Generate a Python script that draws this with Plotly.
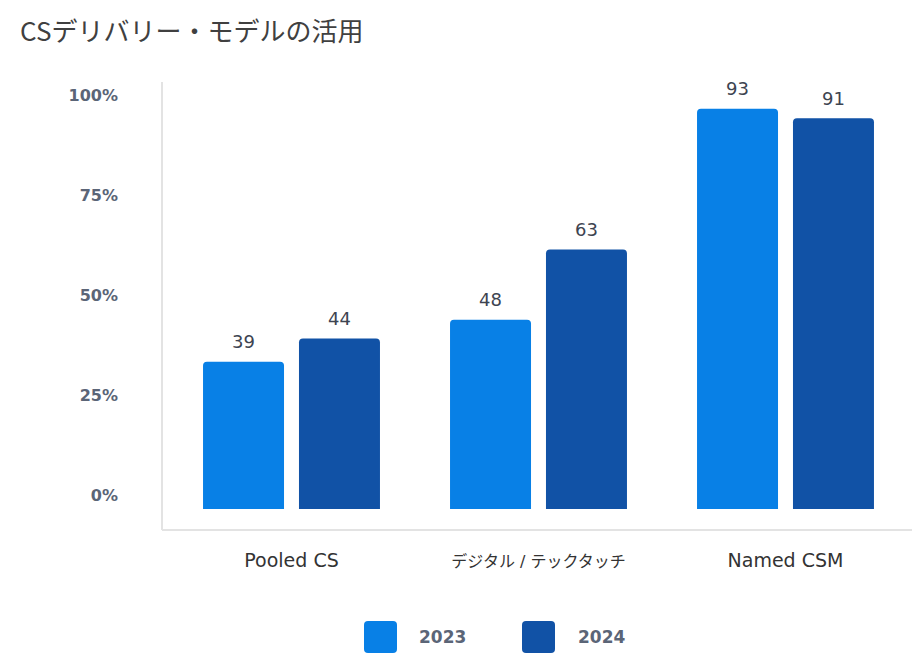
import plotly.graph_objects as go

# ---- data ----
categories = ["Pooled CS", "デジタル / テックタッチ", "Named CSM"]
series_names = ["2023", "2024"]
values_2023 = [39, 48, 93]
values_2024 = [44, 63, 91]
pct_ticks = [0, 25, 50, 75, 100]

colors = ["#0880E6", "#1152A6"]
series_values = [values_2023, values_2024]

OFF = 8  # page body margin
W, H = 920 - OFF, 654 - OFF
L, R, T = 168 - OFF, 11, 82 - OFF
PLOT_BOTTOM = 509 - OFF
B = H - PLOT_BOTTOM
pw, ph = W - L - R, H - T - B

fig = go.Figure()
for name, vals, col in zip(series_names, series_values, colors):
    fig.add_trace(go.Bar(
        x=categories, y=vals, name=name,
        marker=dict(color=col, cornerradius=4, line=dict(width=0)),
        showlegend=False, hoverinfo="x+y+name",
    ))

# dummy trace to carry the percent axis
fig.add_trace(go.Scatter(x=categories, y=[None] * len(categories), yaxis="y2",
                         showlegend=False, hoverinfo="skip", mode="markers"))

slot = 96
annotations = []
for i, (vals, name) in enumerate(zip(series_values, series_names)):
    for c, v in zip(categories, vals):
        annotations.append(dict(
            x=c, y=v, xref="x", yref="y", text=str(v), showarrow=False,
            xshift=(i - 0.5) * slot, yshift=20, yanchor="middle",
            font=dict(family="DejaVu Sans", size=18, color="#3D4451"),
        ))


def px2x(px):
    return (px - OFF - L) / pw


def px2y(py):
    return (PLOT_BOTTOM - (py - OFF)) / ph


# custom legend (large rounded squares)
legend_boxes = [(364, 397), (522, 555)]
legend_texts_x = [442, 601]
shapes = []
for (x0p, x1p), col, tx, name in zip(legend_boxes, colors, legend_texts_x, series_names):
    x0, x1 = px2x(x0p), px2x(x1p)
    y1, y0 = px2y(621), px2y(653)
    rx, ry = 4 / pw, 4 / ph
    path = (f"M{x0+rx},{y0} L{x1-rx},{y0} Q{x1},{y0} {x1},{y0+ry} L{x1},{y1-ry} "
            f"Q{x1},{y1} {x1-rx},{y1} L{x0+rx},{y1} Q{x0},{y1} {x0},{y1-ry} "
            f"L{x0},{y0+ry} Q{x0},{y0} {x0+rx},{y0} Z")
    shapes.append(dict(type="path", xref="paper", yref="paper", path=path,
                       fillcolor=col, line=dict(width=0)))
    annotations.append(dict(
        x=px2x(tx), y=px2y(637), xref="paper", yref="paper", text=f"<b>{name}</b>",
        showarrow=False, xanchor="center", yanchor="middle",
        font=dict(family="DejaVu Sans", size=17, color="#5B6577"),
    ))

# axis lines
axis_col = "#E3E3E3"
shapes.append(dict(type="line", xref="paper", yref="paper",
                   x0=px2x(162), x1=px2x(922), y0=px2y(530), y1=px2y(530),
                   line=dict(color=axis_col, width=2)))
shapes.append(dict(type="line", xref="paper", yref="paper",
                   x0=px2x(162), x1=px2x(162), y0=px2y(82), y1=px2y(530),
                   line=dict(color=axis_col, width=2)))

base_val = 7.6
px_per_unit = 4.686


def cat_label(c):
    if any(ord(ch) > 127 for ch in c):
        return f"<span style='font-size:16px'>{c}</span>"
    return c


fig.update_layout(
    width=W, height=H,
    margin=dict(l=L, r=R, t=T, b=B, pad=0),
    paper_bgcolor="white", plot_bgcolor="white",
    barmode="group", bargap=0.223, bargroupgap=0.156,
    title=dict(text="CSデリバリー・モデルの活用", x=(20 - OFF) / W, xanchor="left", xref="container",
               y=1 - (32 - OFF) / H, yanchor="middle", yref="container",
               font=dict(family="Noto Sans CJK JP", size=26, color="#404040")),
    xaxis=dict(type="category", showgrid=False, showline=False, zeroline=False,
               ticks="", ticklabelstandoff=38,
               tickvals=categories, ticktext=[cat_label(c) for c in categories],
               tickfont=dict(family="DejaVu Sans, Noto Sans CJK JP", size=19, color="#333333")),
    yaxis=dict(range=[base_val, base_val + ph / px_per_unit], showgrid=False, zeroline=False,
               showline=False, showticklabels=False, ticks=""),
    yaxis2=dict(overlaying="y", side="left", anchor="x",
                range=[-3.5, -3.5 + ph / 4.0], tickvals=pct_ticks,
                ticktext=[f"{v}%" for v in pct_ticks],
                showgrid=False, zeroline=False, showline=False, ticks="",
                ticklabelstandoff=49,
                tickfont=dict(family="DejaVu Sans", size=16, color="#5B6577", weight="bold")),
    shapes=shapes, annotations=annotations, showlegend=False,
)

fig.write_html("out.html")
